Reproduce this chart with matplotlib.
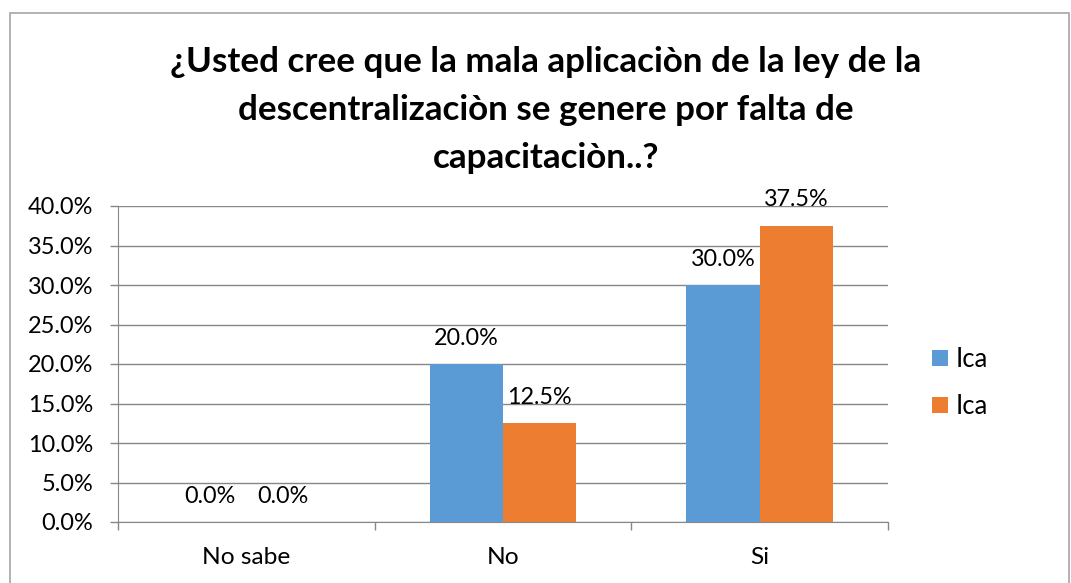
import matplotlib
matplotlib.use("Agg")
import matplotlib.pyplot as plt
import numpy as np
from matplotlib.patches import Rectangle
from matplotlib.ticker import MultipleLocator, FuncFormatter
from matplotlib.textpath import TextPath
from matplotlib.font_manager import FontProperties

categories = ["No sabe", "No", "Si"]
series_names = ["Ica", "Ica"]
values_blue = [0.0, 20.0, 30.0]
values_orange = [0.0, 12.5, 37.5]
title_lines = ["¿Usted cree que la mala aplicaciòn de la ley de la",
               "descentralizaciòn se genere por falta de",
               "capacitaciòn..?"]

FAM = 'Lato'
plt.rcParams['font.family'] = [FAM, 'DejaVu Sans']
W, H = 1071, 583
DPI = 100


def fit_size(text, target_px, weight='normal'):
    # font size (pt) so that the rendered text width is target_px pixels
    fp = FontProperties(family=FAM, weight=weight, size=100)
    tp = TextPath((0, 0), text, prop=fp)
    ext = tp.get_extents()
    w_px_at100 = ext.width * DPI / 72.0
    return 100 * target_px / w_px_at100


title_fs = fit_size(title_lines[0], 748, 'bold')
tick_fs = fit_size("40.0%", 64)
lab_fs = fit_size("37.5%", 63)
cat_fs = fit_size("No sabe", 85)
leg_fs = fit_size("Ica", 28)

fig = plt.figure(figsize=(W/DPI, H/DPI), dpi=DPI)
ax = fig.add_axes([118/W, 1-522/H, (888-118)/W, (522-206)/H])

x = np.arange(len(categories))
bw = 0.286
blue = '#5B9BD5'
orange = '#ED7D31'
b1 = ax.bar(x - bw/2, values_blue, bw, color=blue, label=series_names[0], zorder=3)
b2 = ax.bar(x + bw/2, values_orange, bw, color=orange, label=series_names[1], zorder=3)

for bars, vals in ((b1, values_blue), (b2, values_orange)):
    for r, v in zip(bars, vals):
        ax.annotate(f"{v:.1f}%", (r.get_x() + r.get_width()/2, v),
                    xytext=(0, 11), textcoords='offset points',
                    ha='center', va='bottom', fontsize=lab_fs, color='#000000')

ax.set_xlim(-0.5, 2.5)
ax.set_ylim(0, 40)
ax.yaxis.set_major_locator(MultipleLocator(5))
ax.yaxis.set_major_formatter(FuncFormatter(lambda v, p: f"{v:.1f}%"))
ax.grid(axis='y', color='#878787', linewidth=1, zorder=0)
ax.set_axisbelow(True)
ax.set_xticks(x)
ax.set_xticklabels(categories)
ax.set_xticks([-0.5, 0.5, 1.5, 2.5], minor=True)
ax.tick_params(axis='x', which='major', length=0, pad=18, labelsize=cat_fs)
ax.tick_params(axis='x', which='minor', length=6, width=1, color='#878787', direction='out')
ax.tick_params(axis='y', length=6, width=1, color='#878787', labelsize=tick_fs, pad=12)
for s in ('top', 'right'):
    ax.spines[s].set_visible(False)
ax.spines['left'].set_color('#878787')
ax.spines['bottom'].set_color('#878787')

ys = [62, 110, 158]
for t, yy in zip(title_lines, ys):
    fig.text(546/W, 1-yy/H, t, ha='center', va='center', fontsize=title_fs, fontweight='bold')

leg = ax.legend(loc='center left', bbox_to_anchor=(909/W, 1-383/H), bbox_transform=fig.transFigure,
                frameon=False, fontsize=leg_fs, handlelength=0.62, handleheight=0.62,
                handletextpad=0.3, labelspacing=0.85)

fig.patches.append(Rectangle((10/W, -0.05), (1069-10)/W, 1.05 - 13/H, transform=fig.transFigure,
                             fill=False, edgecolor='#A6A6A6', linewidth=1.2))

fig.savefig('out.png', dpi=DPI)
